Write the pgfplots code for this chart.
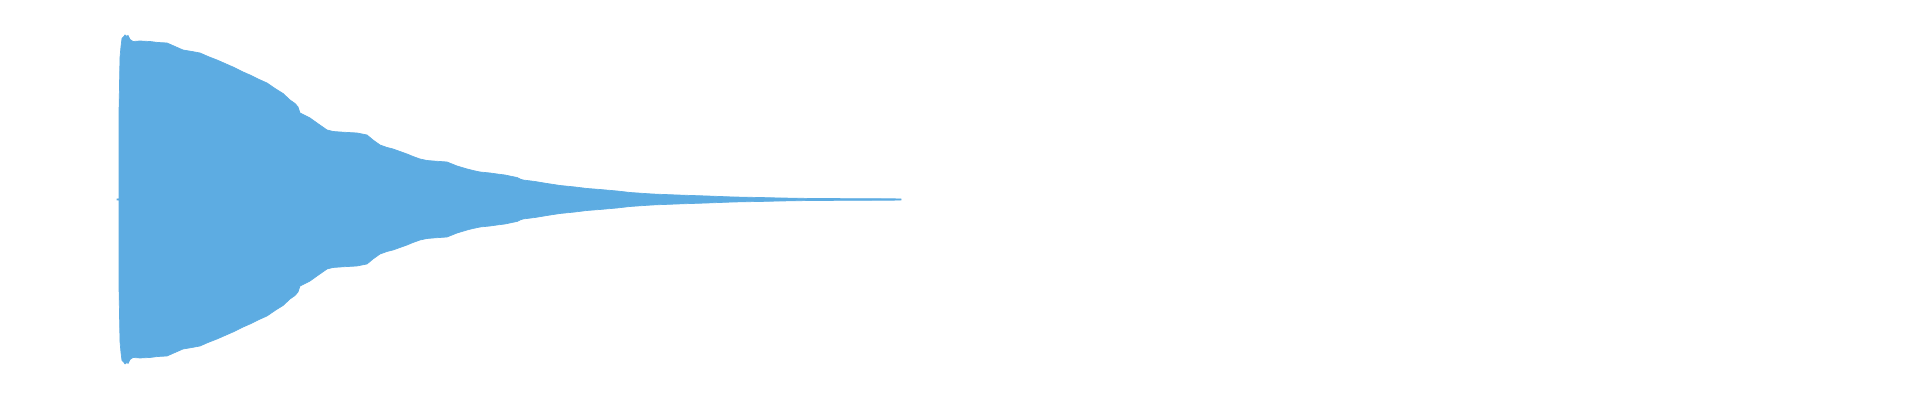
\documentclass[border=0pt]{standalone}
\usepackage{pgfplots}
\pgfplotsset{compat=1.18}
\definecolor{wave}{RGB}{93,172,226}

\begin{document}
\begin{tikzpicture}
% waveform envelope, x in pixels, amplitude in pixels about the centre line
\begin{axis}[
    scale only axis,
    width=19.2cm,
    height=4cm,
    xmin=0, xmax=1920,
    ymin=-200.5, ymax=199.5,
    axis line style={draw=none},
    ticks=none,
]
\addplot[fill=wave, draw=wave, line width=0.2pt] coordinates {
  (117,0.5) (119,0.5) (119,87) (120,142) (121,153) (122,161) (124,163)
  (125,164.5) (127,163) (128,164) (130,160) (133,158) (140,158.5) (150,158)
  (158,157) (167,156.5) (175,153) (183,149.5) (192,148) (200,146.5)
  (208,143) (217,139.5) (225,136) (233,132.5) (242,128) (250,124.5)
  (258,120.5) (267,116.5) (275,111) (283,106) (290,99.5) (295,96)
  (298,92.5) (300,86.5) (305,84) (310,81.5) (317,76.5) (322,73) (327,69.5)
  (333,68) (340,67.5) (348,67) (357,66.5) (362,65.5) (367,64.5) (370,62)
  (373,59.5) (380,54.5) (387,52) (393,50.5) (400,48) (407,45.5) (413,43)
  (420,40.5) (427,39) (433,38.5) (440,38) (447,37.5) (452,35.5) (457,33.5)
  (462,32) (467,30.5) (473,29) (480,27.5) (490,26.5) (497,25.5) (505,24.5)
  (512,23) (517,22) (520,20.5) (523,19.5) (535,18) (547,16) (560,14)
  (575,12.5) (587,11) (600,10) (617,8.5) (630,7) (652,5.5) (677,4.5)
  (707,3.5) (733,2.5) (760,2) (780,1.5) (813,1) (860,0.8) (893,0.7) (901,0.5)
  (901,-0.5) (893,-0.7) (860,-0.8) (813,-1) (780,-1.5) (760,-2) (733,-2.5)
  (707,-3.5) (677,-4.5) (652,-5.5) (630,-7) (617,-8.5) (600,-10)
  (587,-11) (575,-12.5) (560,-14) (547,-16) (535,-18) (523,-19.5)
  (520,-20.5) (517,-22) (512,-23) (505,-24.5) (497,-25.5) (490,-26.5)
  (480,-27.5) (473,-29) (467,-30.5) (462,-32) (457,-33.5) (452,-35.5)
  (447,-37.5) (440,-38) (433,-38.5) (427,-39) (420,-40.5) (413,-43)
  (407,-45.5) (400,-48) (393,-50.5) (387,-52) (380,-54.5) (373,-59.5)
  (370,-62) (367,-64.5) (362,-65.5) (357,-66.5) (348,-67) (340,-67.5)
  (333,-68) (327,-69.5) (322,-73) (317,-76.5) (310,-81.5) (305,-84)
  (300,-86.5) (298,-92.5) (295,-96) (290,-99.5) (283,-106) (275,-111)
  (267,-116.5) (258,-120.5) (250,-124.5) (242,-128) (233,-132.5)
  (225,-136) (217,-139.5) (208,-143) (200,-146.5) (192,-148) (183,-149.5)
  (175,-153) (167,-156.5) (158,-157) (150,-158) (140,-158.5) (133,-158)
  (130,-160) (128,-164) (127,-163) (125,-164.5) (124,-163) (122,-161)
  (121,-153) (120,-142) (119,-87) (119,-0.5) (117,-0.5)
} -- cycle;
\end{axis}
\end{tikzpicture}
\end{document}
